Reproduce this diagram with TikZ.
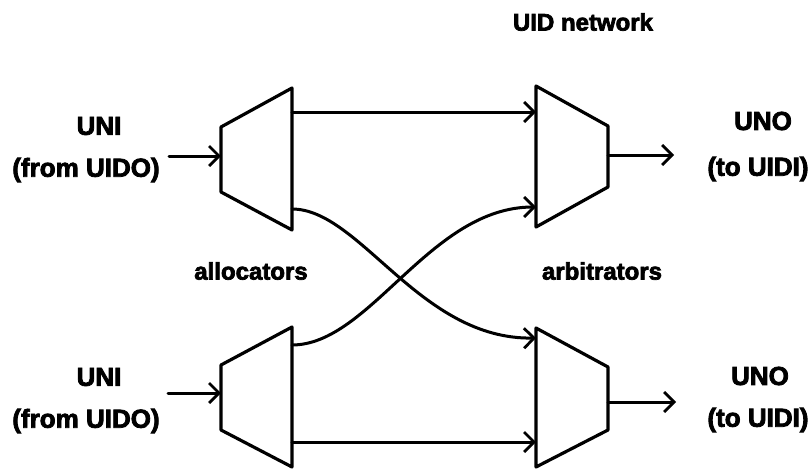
\documentclass[tikz,border=0pt]{standalone}
\usepackage{fontspec}
\setmainfont{Liberation Sans}
\newfontfamily\plotfont{Liberation Sans Bold}[FakeBold=3]
\usetikzlibrary{arrows.meta}
\tikzset{
  wire/.style={line width=3pt, line cap=round, line join=round},
  feed/.style={wire, -{Straight Barb[length=10pt,width=20pt,line width=2.8pt]}},
  box/.style={line width=3.2pt, line join=round},
  caption/.style={inner sep=0pt, font=\plotfont\fontsize{26}{28}\selectfont},
  tag/.style={inner sep=0pt, font=\plotfont\fontsize{24}{26}\selectfont}
}
\begin{document}
\begin{tikzpicture}[x=1pt,y=-1pt]
\useasboundingbox (0,0) rectangle (812,469);
{
% Allocator upper
\draw [box] (221,127) -- (292,88) -- (292,230) -- (221,192) -- cycle;
\coordinate (aloAin) at (221,156);
\coordinate (aloAout) at (292,112);
\coordinate (aloAcross) at (292,209);

% Allocator lower
\draw [box] (221,365) -- (292,327) -- (292,467) -- (221,430) -- cycle;
\coordinate (aloBin) at (221,393);
\coordinate (aloBcross) at (292,345);
\coordinate (aloBout) at (292,442);

% Arbitrator upper
\draw [box] (536,86) -- (608,126) -- (608,187) -- (536,227) -- cycle;
\coordinate (arbAin) at (536,112);
\coordinate (arbAcross) at (536,207);
\coordinate (arbAout) at (608,155);

% Arbitrator lower
\draw [box] (536,328) -- (608,367) -- (608,430) -- (536,467) -- cycle;
\coordinate (arbBcross) at (536,338);
\coordinate (arbBin) at (536,442);
\coordinate (arbBout) at (608,402);

% Inputs and outputs
\coordinate (srcA) at (169,156);
\coordinate (srcB) at (168,393);
\coordinate (dstA) at (674,155);
\coordinate (dstB) at (676,402);
\draw [feed] (srcA) -- (aloAin);
\draw [feed] (srcB) -- (aloBin);
\draw [feed] (arbAout) -- (dstA);
\draw [feed] (arbBout) -- (dstB);

% Drawing straight links
\draw [feed] (aloAout) -- (arbAin);
\draw [feed] (aloBout) -- (arbBin);

% Drawing crossed links
\draw [feed] (aloAcross) .. controls (360,209) and (420,340) .. (arbBcross);
\draw [feed] (aloBcross) .. controls (370,345) and (430,207) .. (arbAcross);

% Labels
\node [tag] (title) at (583,22) {UID network};
\node [caption] (uniA) at (99,126) {UNI};
\node [caption] (fromA) at (86,170) {(from UIDO)};
\node [caption] (unoA) at (763,121) {UNO};
\node [caption] (toA) at (758,169) {(to UIDI)};
\node [caption] (uniB) at (99,377) {UNI};
\node [caption] (fromB) at (86,421) {(from UIDO)};
\node [caption] (unoB) at (760,376) {UNO};
\node [caption] (toB) at (758,420) {(to UIDI)};
\node [tag] (alloc) at (251,271) {allocators};
\node [tag] (arbit) at (602,271) {arbitrators};
}
\end{tikzpicture}
\end{document}
